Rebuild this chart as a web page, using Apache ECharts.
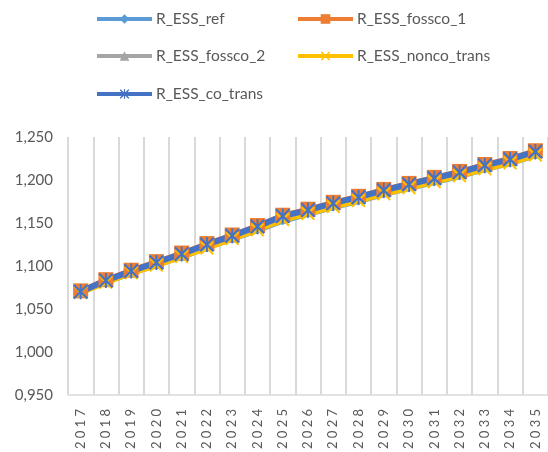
<!DOCTYPE html>
<html>
<head>
<meta charset="utf-8">
<script src="https://cdn.jsdelivr.net/npm/echarts@6/dist/echarts.min.js"></script>
<style>
  html, body { margin: 0; padding: 0; background: #ffffff; }
  #chart { width: 548px; height: 452px; }
</style>
</head>
<body>
<div id="chart"></div>
<script>
const years = ["2017", "2018", "2019", "2020", "2021", "2022", "2023", "2024", "2025", "2026",
  "2027", "2028", "2029", "2030", "2031", "2032", "2033", "2034", "2035"];

const essRef = [1.069, 1.081, 1.091, 1.101, 1.110, 1.121, 1.131, 1.141, 1.152, 1.160,
  1.168, 1.175, 1.183, 1.190, 1.197, 1.204, 1.212, 1.219, 1.228];
const essFossco1 = [1.071, 1.084, 1.095, 1.105, 1.115, 1.126, 1.136, 1.147, 1.159, 1.166,
  1.174, 1.181, 1.189, 1.196, 1.203, 1.210, 1.218, 1.225, 1.234];
const essFossco2 = [1.070, 1.082, 1.093, 1.103, 1.112, 1.123, 1.133, 1.144, 1.155, 1.163,
  1.171, 1.178, 1.186, 1.193, 1.200, 1.207, 1.215, 1.222, 1.231];
const essNoncoTrans = [1.069, 1.081, 1.092, 1.101, 1.111, 1.121, 1.132, 1.142, 1.154, 1.161,
  1.169, 1.176, 1.184, 1.191, 1.198, 1.205, 1.213, 1.220, 1.229];
const essCoTrans = [1.070, 1.083, 1.094, 1.104, 1.114, 1.125, 1.135, 1.146, 1.158, 1.165,
  1.173, 1.180, 1.188, 1.195, 1.202, 1.209, 1.217, 1.224, 1.233];

const yMin = 0.95;
const yMax = 1.25;
const yStep = 0.05;

const FONT = "Lato";
const TEXT = "#595959";

// marker shapes like the spreadsheet ones
const crossPath = "path://M0,1L1,0L5,4L9,0L10,1L6,5L10,9L9,10L5,6L1,10L0,9L4,5Z";
const starPath = "path://M0,1L1,0L5,4L9,0L10,1L6,5L10,9L9,10L5,6L1,10L0,9L4,5Z M4.4,0L5.6,0L5.6,10L4.4,10Z";

function line(name, data, color, symbol, symbolSize, width) {
  return {
    name,
    type: "line",
    data,
    symbol,
    symbolSize,
    showSymbol: true,
    lineStyle: { color, width },
    itemStyle: { color, borderWidth: 0 },
    emphasis: { disabled: true },
    animation: false,
  };
}

function legendAt(name, left, top) {
  return {
    data: [name],
    left,
    top,
    padding: 0,
    itemWidth: 55,
    itemHeight: 12,
    selectedMode: false,
    lineStyle: { width: 4 },
    textStyle: { color: TEXT, fontSize: 15.5, fontFamily: FONT, padding: [0, 0, 0, -1] },
  };
}

const chart = echarts.init(document.getElementById("chart"), null, { renderer: "canvas" });

chart.setOption({
  backgroundColor: "#ffffff",
  grid: { left: 68, right: -6, top: 137, bottom: 54, containLabel: false },
  legend: [
    legendAt("R_ESS_ref", 95, 11),
    legendAt("R_ESS_fossco_1", 296, 11),
    legendAt("R_ESS_fossco_2", 95, 48),
    legendAt("R_ESS_nonco_trans", 296, 48),
    legendAt("R_ESS_co_trans", 95, 86),
  ],
  xAxis: {
    type: "category",
    data: years,
    boundaryGap: true,
    axisLine: { lineStyle: { color: "#D9D9D9", width: 1.5 } },
    axisTick: { show: false },
    splitLine: { show: true, interval: 0, lineStyle: { color: "#D9D9D9", width: 2 } },
    axisLabel: {
      interval: 0,
      rotate: 90,
      margin: 14,
      color: TEXT,
      fontSize: 13,
      fontFamily: FONT,
      formatter: (v) => v.split("").join(" "),
    },
  },
  yAxis: {
    type: "value",
    min: yMin,
    max: yMax,
    interval: yStep,
    axisLine: { show: false },
    axisTick: { show: false },
    splitLine: { show: false },
    axisLabel: {
      margin: 15,
      color: TEXT,
      fontSize: 15,
      fontFamily: FONT,
      formatter: (v) => v.toFixed(3).replace(".", ","),
    },
  },
  series: [
    line("R_ESS_ref", essRef, "#5B9BD5", "diamond", 8, 5),
    line("R_ESS_fossco_1", essFossco1, "#ED7D31", "rect", 15, 5),
    line("R_ESS_fossco_2", essFossco2, "#A5A5A5", "triangle", 10, 5),
    line("R_ESS_nonco_trans", essNoncoTrans, "#FFC000", crossPath, 14, 6),
    line("R_ESS_co_trans", essCoTrans, "#4472C4", starPath, 15, 6),
  ],
});
</script>
</body>
</html>
